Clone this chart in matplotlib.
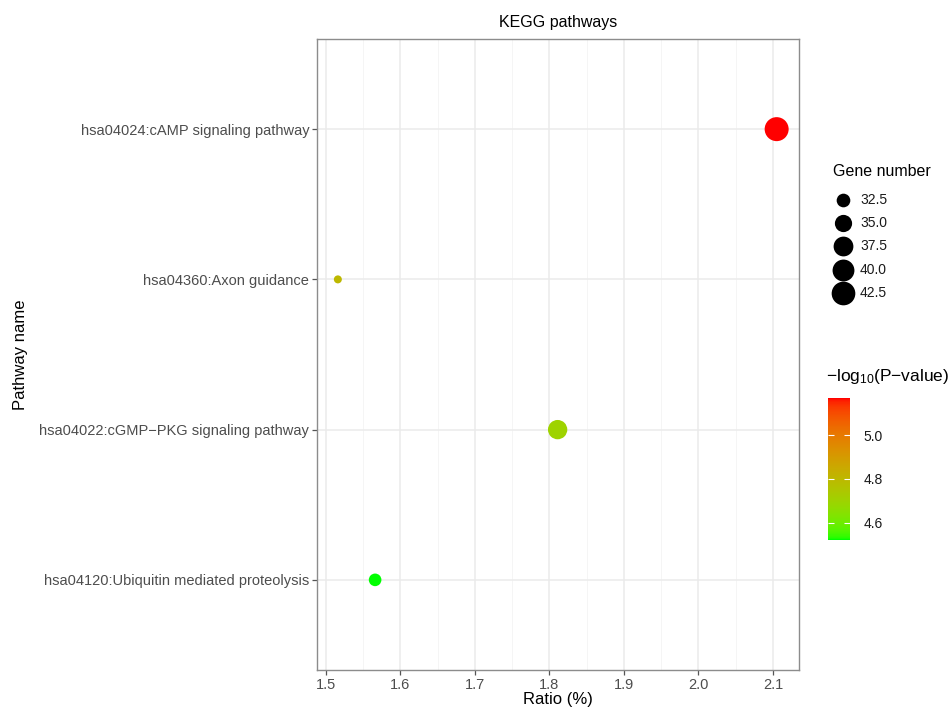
import numpy as np
import matplotlib
matplotlib.use("Agg")
import matplotlib.pyplot as plt
from matplotlib.colors import ListedColormap, Normalize

plt.rcParams['font.family'] = ['Liberation Sans', 'DejaVu Sans']
plt.rcParams['mathtext.fontset'] = 'custom'
plt.rcParams['mathtext.rm'] = 'Liberation Sans'
plt.rcParams['mathtext.it'] = 'Liberation Sans:italic'
plt.rcParams['mathtext.bf'] = 'Liberation Sans:bold'

# ---------------- data ----------------
pathways = ["hsa04120:Ubiquitin mediated proteolysis",
            "hsa04022:cGMP\u2212PKG signaling pathway",
            "hsa04360:Axon guidance",
            "hsa04024:cAMP signaling pathway"]
ratio = [1.566, 1.811, 1.516, 2.105]
gene_number = [32, 37, 31, 43]
neglog10p = [4.52, 4.70, 4.80, 5.17]
size_breaks = [32.5, 35.0, 37.5, 40.0, 42.5]
x_ticks = [1.5, 1.6, 1.7, 1.8, 1.9, 2.0, 2.1]
cbar_ticks = [4.6, 4.8, 5.0]

# ---------------- colour map: green -> red interpolated in Lab ----------------
M = np.array([[0.4124564, 0.3575761, 0.1804375],
              [0.2126729, 0.7151522, 0.0721750],
              [0.0193339, 0.1191920, 0.9503041]])
WN = np.array([0.95047, 1.0, 1.08883])

def rgb2lab(rgb):
    c = np.asarray(rgb, float)
    lin = np.where(c <= 0.04045, c / 12.92, ((c + 0.055) / 1.055) ** 2.4)
    xyz = M @ lin / WN
    f = np.where(xyz > 0.008856, np.cbrt(xyz), 7.787 * xyz + 16 / 116)
    return np.array([116 * f[1] - 16, 500 * (f[0] - f[1]), 200 * (f[1] - f[2])])

def lab2rgb(lab):
    L, a, b = lab
    fy_ = (L + 16) / 116
    fx_ = fy_ + a / 500
    fz_ = fy_ - b / 200
    f = np.array([fx_, fy_, fz_])
    xyz = np.where(f ** 3 > 0.008856, f ** 3, (f - 16 / 116) / 7.787) * WN
    lin = np.linalg.solve(M, xyz)
    lin = np.clip(lin, 0, 1)
    c = np.where(lin <= 0.0031308, 12.92 * lin, 1.055 * lin ** (1 / 2.4) - 0.055)
    return np.clip(c, 0, 1)

lab_lo = rgb2lab([0, 1, 0])
lab_hi = rgb2lab([1, 0, 0])
cols = [lab2rgb(lab_lo + t * (lab_hi - lab_lo)) for t in np.linspace(0, 1, 256)]
cmap = ListedColormap(cols)
norm = Normalize(vmin=min(neglog10p), vmax=max(neglog10p))

# ---------------- size scale (area scale, ggplot-like) ----------------
gmin, gmax = min(gene_number), max(gene_number)
def diam_px(g):
    t = (np.asarray(g, float) - gmin) / (gmax - gmin)
    s = 1 + 5 * np.sqrt(np.clip(t, 0, 1))
    return 4.8 + 3.2 * s

def s_pts(g):
    return (diam_px(g) * 0.72) ** 2

# ---------------- figure ----------------
W, H = 952, 712
fig = plt.figure(figsize=(W / 100, H / 100), dpi=100)

def fx(px): return px / W
def fy(py): return 1 - py / H

ax = fig.add_axes([fx(317), fy(670), fx(799) - fx(317), fy(39) - fy(670)])
ypos = np.arange(1, len(pathways) + 1)
ax.scatter(ratio, ypos, s=s_pts(gene_number), c=neglog10p, cmap=cmap, norm=norm,
           linewidths=0, zorder=3)

ax.set_xticks(x_ticks)
ax.set_xticklabels([f"{v:.1f}" for v in x_ticks])
ax.set_xticks([round(v + 0.05, 2) for v in x_ticks[:-1]], minor=True)
ax.set_yticks(ypos)
ax.set_yticklabels(pathways)
ax.set_xlim(1.488, 2.135)
ax.set_ylim(0.4, 4.6)

ax.grid(which='major', color='#ebebeb', linewidth=1.1, zorder=0)
ax.grid(which='minor', axis='x', color='#f4f4f4', linewidth=0.6, zorder=0)
ax.set_axisbelow(True)
for sp in ax.spines.values():
    sp.set_color('#8c8c8c')
    sp.set_linewidth(1.0)
ax.tick_params(which='major', length=3.5, width=0.9, color='#555555',
               labelsize=10.5, labelcolor='#4d4d4d', pad=2)
ax.tick_params(which='minor', length=0)

ax.set_title("KEGG pathways", fontsize=11.5, color='black', pad=9)
ax.set_xlabel("Ratio (%)", fontsize=12, color='black', labelpad=0)
ax.set_ylabel("Pathway name", fontsize=12, color='black', labelpad=8)

# ---------------- size legend ----------------
lax = fig.add_axes([fx(825), fy(320), fx(950) - fx(825), fy(155) - fy(320)])
lax.set_xlim(825, 950)
lax.set_ylim(320, 155)
lax.axis('off')
lax.text(833, 171, "Gene number", fontsize=11.5, color='black', va='center', ha='left')
for i, b in enumerate(size_breaks):
    yy = 200 + i * 23.2
    lax.scatter([843], [yy], s=s_pts(b), c='black', linewidths=0, clip_on=False)
    lax.text(860, yy, f"{b:.1f}", fontsize=10, color='#1a1a1a', va='center', ha='left')

# ---------------- colourbar ----------------
cax = fig.add_axes([fx(828), fy(540), fx(850) - fx(828), fy(398) - fy(540)])
sm = matplotlib.cm.ScalarMappable(norm=norm, cmap=cmap)
cb = fig.colorbar(sm, cax=cax, ticks=cbar_ticks)
cb.outline.set_visible(False)
cax.set_yticklabels([f"{v:.1f}" for v in cbar_ticks])
cax.tick_params(axis='y', which='both', left=True, right=True, direction='in',
                color='white', length=4, width=0.8, labelsize=10, labelcolor='#1a1a1a', pad=10)
fig.text(fx(826), fy(377), r"$\mathregular{-log_{10}}$(P$\mathregular{-}$value)", fontsize=12.5,
         color='black', ha='left', va='center')

fig.savefig("out.png", dpi=100)
